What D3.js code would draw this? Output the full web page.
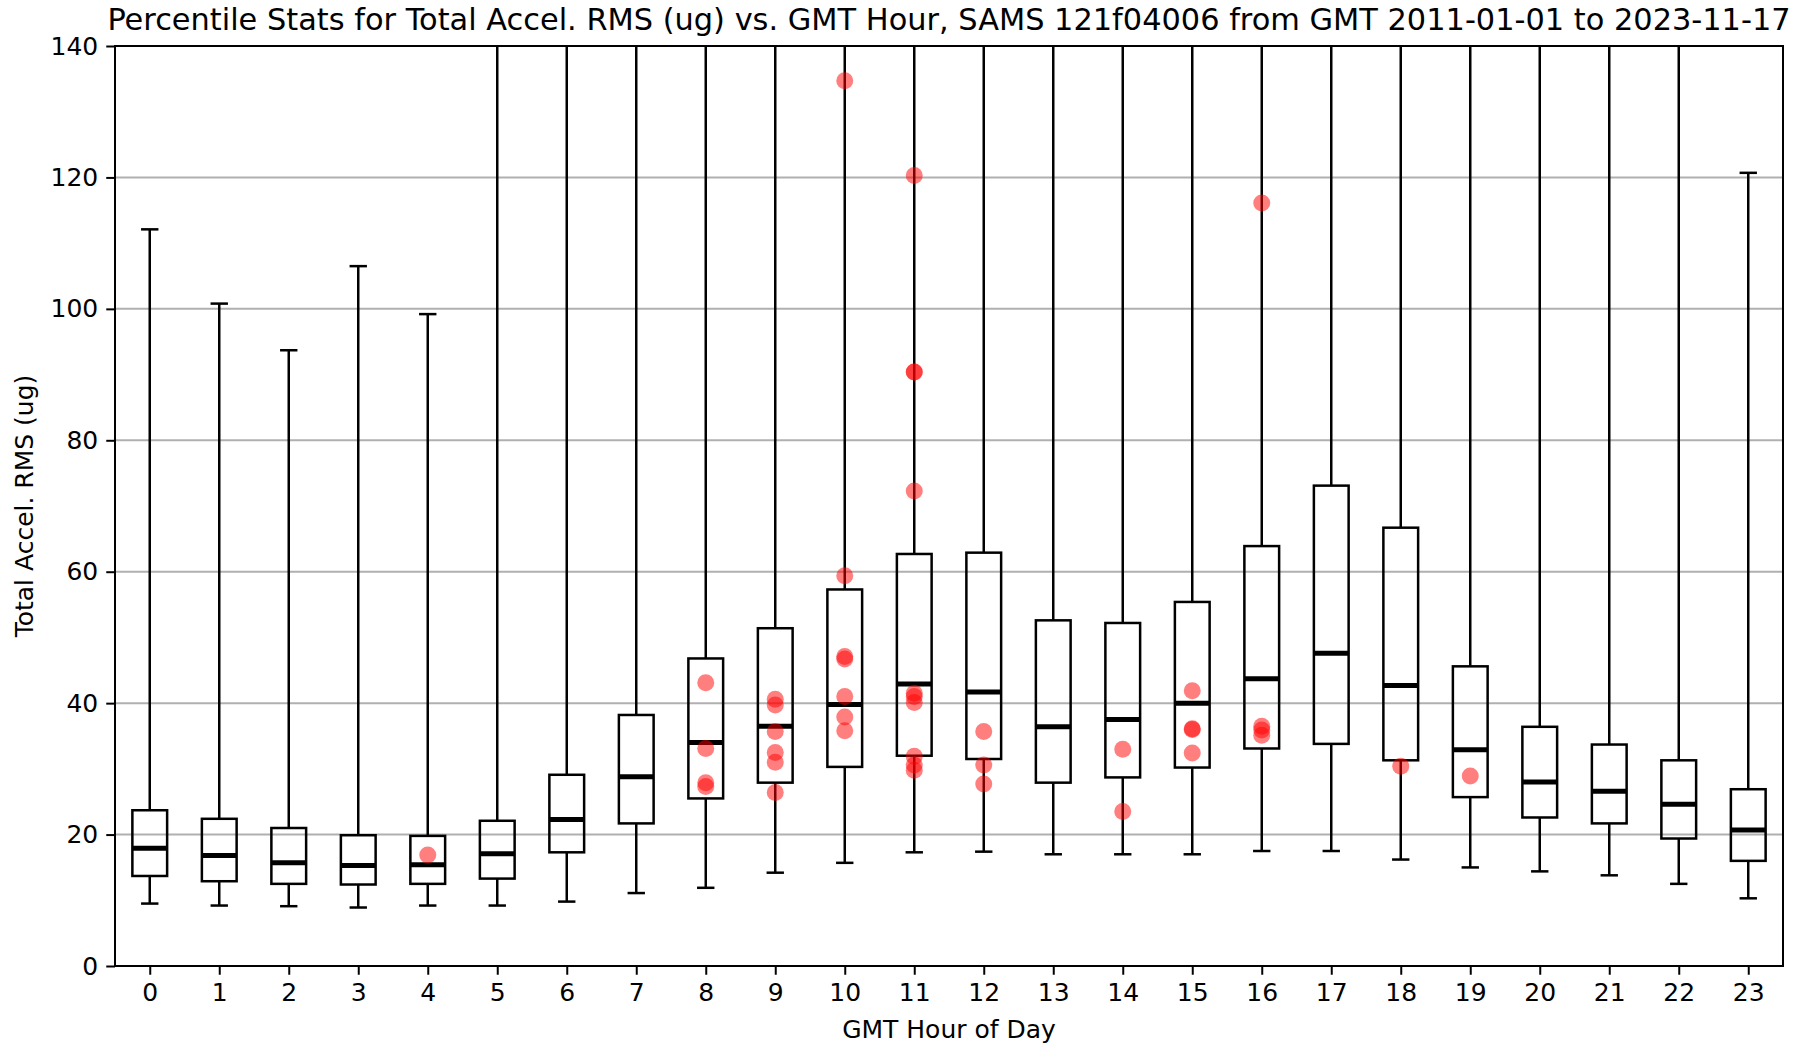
<!DOCTYPE html>
<html>
<head>
<meta charset="utf-8">
<script src="https://cdn.jsdelivr.net/npm/d3@7"></script>
<style>
  body { margin: 0; background: #fff; }
  text { font-family: "DejaVu Sans", sans-serif; fill: #000; }
</style>
</head>
<body>
<div class="chart"></div>
<script>
var WIDTH = 1806;
var HEIGHT = 1046;
var margin = {top: 46, right: 23, bottom: 80, left: 115};

// per-hour percentile stats (ug)
var hours = d3.range(0, 24);
var whiskerLow = [9.5, 9.2, 9.1, 8.9, 9.2, 9.2, 9.8, 11.1, 11.9, 14.2, 15.7, 17.3, 17.4, 17.0, 17.0, 17.0, 17.5, 17.5, 16.2, 15.0, 14.4, 13.8, 12.5, 10.3];
var q1 = [13.7, 12.9, 12.5, 12.4, 12.5, 13.3, 17.3, 21.7, 25.5, 27.9, 30.3, 32.0, 31.5, 27.9, 28.7, 30.2, 33.1, 33.8, 31.3, 25.7, 22.6, 21.7, 19.4, 16.0];
var medians = [17.9, 16.8, 15.7, 15.3, 15.4, 17.1, 22.3, 28.8, 34.0, 36.5, 39.8, 42.9, 41.7, 36.4, 37.5, 40.0, 43.7, 47.6, 42.7, 32.9, 28.0, 26.6, 24.6, 20.7];
var q3 = [23.7, 22.4, 21.0, 19.9, 19.8, 22.1, 29.1, 38.2, 46.8, 51.4, 57.3, 62.7, 62.9, 52.6, 52.2, 55.4, 63.9, 73.1, 66.7, 45.6, 36.4, 33.7, 31.3, 26.9];
var whiskerHigh = [112.1, 100.8, 93.7, 106.5, 99.2, 150, 150, 150, 150, 150, 150, 150, 150, 150, 150, 150, 150, 150, 150, 150, 150, 150, 150, 120.7];

// outliers as [hour, value]
var outliers = [
  [4, 16.9],
  [8, 43.1], [8, 33.1], [8, 27.9], [8, 27.3],
  [9, 40.6], [9, 39.7], [9, 35.7], [9, 32.5], [9, 31.0], [9, 26.4],
  [10, 134.7], [10, 59.4], [10, 47.1], [10, 46.7], [10, 41.0], [10, 37.9], [10, 35.8],
  [11, 120.3], [11, 90.4], [11, 90.4], [11, 72.3], [11, 41.5], [11, 41.0], [11, 40.1], [11, 31.9], [11, 30.6], [11, 29.8],
  [12, 35.7], [12, 30.6], [12, 27.7],
  [14, 33.0], [14, 23.5],
  [15, 41.9], [15, 36.1], [15, 36.0], [15, 32.4],
  [16, 116.1], [16, 36.5], [16, 35.9], [16, 35.1],
  [18, 30.4],
  [19, 28.9]
];

var yTicks = [0, 20, 40, 60, 80, 100, 120, 140];

var data = hours.map(function(h, i) {
    return {hour: h, lo: whiskerLow[i], q1: q1[i], med: medians[i], q3: q3[i], hi: whiskerHigh[i]};
});

var svg = d3.select(".chart")
    .append("svg")
    .attr("width", WIDTH)
    .attr("height", HEIGHT);

var plotW = WIDTH - margin.left - margin.right;
var plotH = HEIGHT - margin.top - margin.bottom;

var x = d3.scaleLinear().domain([-0.5, 23.5]).range([margin.left, margin.left + plotW]);
var y = d3.scaleLinear().domain([0, 140]).range([margin.top + plotH, margin.top]);
var boxW = x(0.5) - x(0);
var capW = boxW / 2;

svg.append("clipPath").attr("id", "plotclip")
    .append("rect")
    .attr("x", margin.left)
    .attr("y", margin.top)
    .attr("width", plotW)
    .attr("height", plotH);

// grid
svg.append("g").selectAll("line")
    .data(yTicks)
    .enter().append("line")
    .attr("x1", margin.left)
    .attr("x2", margin.left + plotW)
    .attr("y1", function(d) { return y(d); })
    .attr("y2", function(d) { return y(d); })
    .attr("stroke", "#b0b0b0")
    .attr("stroke-width", 2);

var plot = svg.append("g").attr("clip-path", "url(#plotclip)");

var box = plot.selectAll("g.box")
    .data(data)
    .enter().append("g")
    .attr("class", "box");

// whiskers
box.append("line")
    .attr("x1", function(d) { return x(d.hour); })
    .attr("x2", function(d) { return x(d.hour); })
    .attr("y1", function(d) { return y(d.q3); })
    .attr("y2", function(d) { return y(d.hi); })
    .attr("stroke", "#000").attr("stroke-width", 2.5);
box.append("line")
    .attr("x1", function(d) { return x(d.hour); })
    .attr("x2", function(d) { return x(d.hour); })
    .attr("y1", function(d) { return y(d.q1); })
    .attr("y2", function(d) { return y(d.lo); })
    .attr("stroke", "#000").attr("stroke-width", 2.5);

// caps
box.append("line")
    .attr("x1", function(d) { return x(d.hour) - capW / 2; })
    .attr("x2", function(d) { return x(d.hour) + capW / 2; })
    .attr("y1", function(d) { return y(d.lo); })
    .attr("y2", function(d) { return y(d.lo); })
    .attr("stroke", "#000").attr("stroke-width", 2.5);
box.append("line")
    .attr("x1", function(d) { return x(d.hour) - capW / 2; })
    .attr("x2", function(d) { return x(d.hour) + capW / 2; })
    .attr("y1", function(d) { return y(d.hi); })
    .attr("y2", function(d) { return y(d.hi); })
    .attr("stroke", "#000").attr("stroke-width", 2.5);

// boxes
box.append("rect")
    .attr("x", function(d) { return x(d.hour) - boxW / 2; })
    .attr("y", function(d) { return y(d.q3); })
    .attr("width", boxW)
    .attr("height", function(d) { return y(d.q1) - y(d.q3); })
    .attr("fill", "none")
    .attr("stroke", "#000").attr("stroke-width", 2.5);

// medians
box.append("line")
    .attr("x1", function(d) { return x(d.hour) - boxW / 2; })
    .attr("x2", function(d) { return x(d.hour) + boxW / 2; })
    .attr("y1", function(d) { return y(d.med); })
    .attr("y2", function(d) { return y(d.med); })
    .attr("stroke", "#000").attr("stroke-width", 5);

// outliers
plot.append("g").selectAll("circle")
    .data(outliers)
    .enter().append("circle")
    .attr("cx", function(d) { return x(d[0]); })
    .attr("cy", function(d) { return y(d[1]); })
    .attr("r", 8.5)
    .attr("fill", "red")
    .attr("fill-opacity", 0.5);

// axes
var xAxis = svg.append("g")
    .attr("transform", "translate(0," + (margin.top + plotH) + ")")
    .call(d3.axisBottom(x).tickValues(hours).tickFormat(d3.format("d")).tickSize(8.75).tickPadding(8));
var yAxis = svg.append("g")
    .attr("transform", "translate(" + margin.left + ",0)")
    .call(d3.axisLeft(y).tickValues(yTicks).tickSize(8.75).tickPadding(8));

[xAxis, yAxis].forEach(function(a) {
    a.select(".domain").remove();
    a.selectAll(".tick line").attr("stroke", "#000").attr("stroke-width", 2);
    a.selectAll(".tick text").style("font-size", "25px").style("font-family", "DejaVu Sans");
});

// frame
svg.append("rect")
    .attr("x", margin.left)
    .attr("y", margin.top)
    .attr("width", plotW)
    .attr("height", plotH)
    .attr("fill", "none")
    .attr("stroke", "#000")
    .attr("stroke-width", 2);

// labels
svg.append("text")
    .attr("x", margin.left + plotW / 2)
    .attr("y", 30)
    .attr("text-anchor", "middle")
    .style("font-size", "30.4px")
    .text("Percentile Stats for Total Accel. RMS (ug) vs. GMT Hour, SAMS 121f04006 from GMT 2011-01-01 to 2023-11-17");

svg.append("text")
    .attr("x", margin.left + plotW / 2)
    .attr("y", 1038)
    .attr("text-anchor", "middle")
    .style("font-size", "25px")
    .text("GMT Hour of Day");

svg.append("text")
    .attr("transform", "translate(33," + (margin.top + plotH / 2) + ") rotate(-90)")
    .attr("text-anchor", "middle")
    .style("font-size", "25px")
    .text("Total Accel. RMS (ug)");
</script>
</body>
</html>
